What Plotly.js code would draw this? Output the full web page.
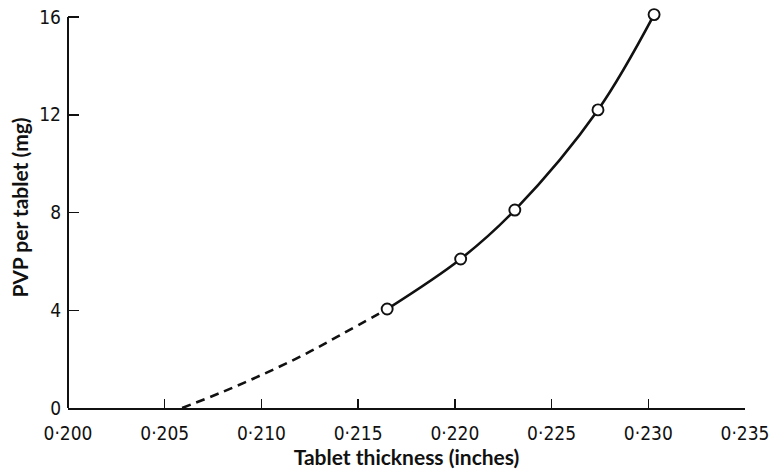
<!DOCTYPE html>
<html>
<head>
<meta charset="utf-8">
<script src="https://cdn.plot.ly/plotly-3.0.1.min.js"></script>
<style>html,body{margin:0;padding:0;background:#fff;}#chart{width:773px;height:469px;}</style>
</head>
<body>
<div id="chart"></div>
<script>
// Measured points (open circles)
const thickness = [0.2165, 0.2203, 0.2231, 0.2274, 0.2303];
const pvp = [4.05, 6.1, 8.1, 12.2, 16.1];
// Dashed extrapolated part of the curve
const extrapThickness = [0.2059, 0.2080, 0.2100, 0.2120, 0.2140, 0.2165];
const extrapPvp = [0, 0.66, 1.35, 2.10, 2.95, 4.05];
// Tick labels
const xTickVals = [0.200, 0.205, 0.210, 0.215, 0.220, 0.225, 0.230, 0.235];
const xTickText = ["0·200", "0·205", "0·210", "0·215", "0·220", "0·225", "0·230", "0·235"];
const yTickVals = [0, 4, 8, 12, 16];
const yTickText = ["0", "4", "8", "12", "16"];
const yAxisTop = 16;

const ink = '#111';
const tickFont = {family: '"Liberation Sans Narrow", "Arial Narrow", "DejaVu Sans Condensed", sans-serif', size: 19, color: ink};
const titleFont = {family: 'Lato, "Open Sans", sans-serif', size: 21, color: ink, weight: 700};

const traces = [
  {
    x: extrapThickness, y: extrapPvp, type: 'scatter', mode: 'lines',
    line: {color: ink, width: 2.6, dash: '9px,6px', shape: 'spline', smoothing: 1},
    hoverinfo: 'skip', cliponaxis: false
  },
  {
    x: thickness, y: pvp, type: 'scatter', mode: 'lines',
    line: {color: ink, width: 2.6, shape: 'spline', smoothing: 1},
    hoverinfo: 'skip', cliponaxis: false
  },
  {
    x: thickness, y: pvp, type: 'scatter', mode: 'markers',
    marker: {symbol: 'circle', size: 11, color: '#fff', line: {color: ink, width: 1.9}},
    cliponaxis: false
  }
];

const layout = {
  width: 773, height: 469,
  margin: {l: 68, r: 28, t: 7, b: 61},
  paper_bgcolor: '#fff', plot_bgcolor: '#fff',
  showlegend: false,
  xaxis: {
    range: [0.200, 0.235], showgrid: false, zeroline: false,
    showline: true, linecolor: ink, linewidth: 2,
    ticks: 'inside', ticklen: 9, tickwidth: 1.5, tickcolor: ink,
    tickvals: xTickVals, ticktext: xTickText, tickfont: tickFont,
    ticklabelstandoff: 7,
    title: {text: 'Tablet thickness (inches)', font: titleFont, standoff: 5}
  },
  yaxis: {
    range: [0, 16.41], showgrid: false, zeroline: false,
    showline: false,
    ticks: 'inside', ticklen: 11, tickwidth: 1.5, tickcolor: ink,
    tickvals: yTickVals, ticktext: yTickText, tickfont: tickFont,
    ticklabelstandoff: 6,
    title: {text: 'PVP per tablet (mg)', font: titleFont, standoff: 4}
  },
  shapes: [
    {type: 'line', xref: 'paper', yref: 'y', x0: 0, x1: 0, y0: 0, y1: yAxisTop,
     line: {color: ink, width: 2}}
  ]
};

Plotly.newPlot('chart', traces, layout, {displayModeBar: false, staticPlot: true});
</script>
</body>
</html>
